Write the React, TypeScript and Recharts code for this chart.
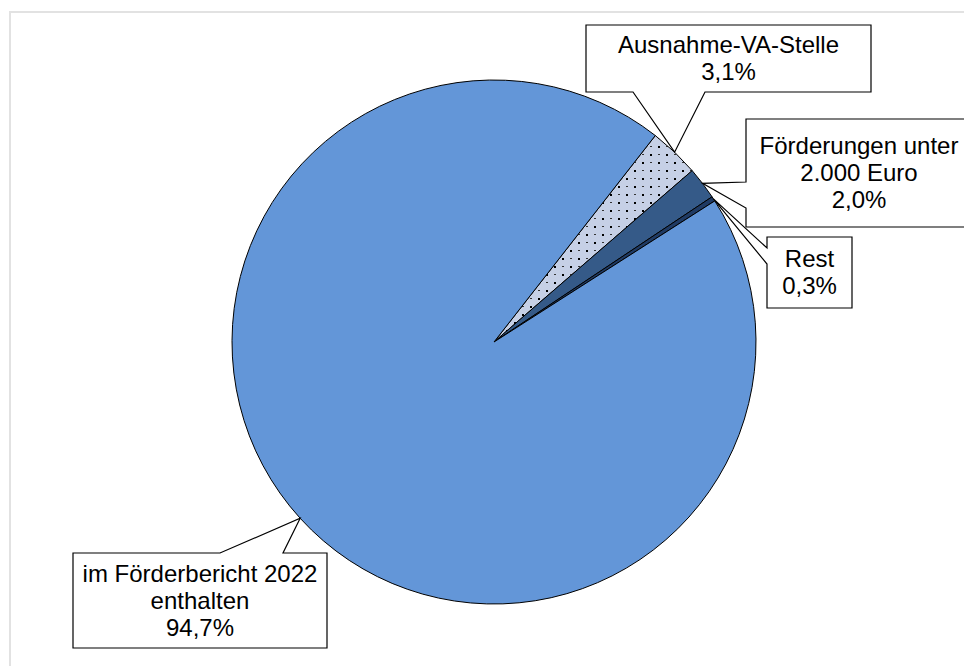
import React from "react";
import { Cell, Pie, PieChart } from "recharts";

const categories = [
  "Ausnahme-VA-Stelle",
  "Förderungen unter 2.000 Euro",
  "Rest",
  "im Förderbericht 2022 enthalten",
];
const shares = [3.1, 2.0, 0.3, 94.7];
const labelLines = [
  ["Ausnahme-VA-Stelle"],
  ["Förderungen unter", "2.000 Euro"],
  ["Rest"],
  ["im Förderbericht 2022", "enthalten"],
];
const fills = ["url(#dots)", "#355a88", "#1f3a63", "#6396d8"];

// callout boxes: rect + where the pointer leaves the box
const callouts = [
  { x: 586, y: 25, w: 285, h: 67, side: "bottom", a: 633, b: 705 },
  { x: 746, y: 119, w: 226, h: 108, side: "left", a: 182, b: 208 },
  { x: 767, y: 237, w: 85, h: 71, side: "left", a: 248, b: 264 },
  { x: 73, y: 553, w: 254, h: 95, side: "top", a: 220, b: 283 },
];

const data = categories.map((name, i) => ({ name, value: shares[i] }));

const RAD = Math.PI / 180;
const FONT = "'Liberation Sans', Arial, sans-serif";
const LH = 27;

function calloutPath(c: (typeof callouts)[number], tx: number, ty: number) {
  const { x, y, w, h, side, a, b } = c;
  const pts: [number, number][] = [[x, y]];
  if (side === "top") pts.push([a, y], [tx, ty], [b, y]);
  pts.push([x + w, y], [x + w, y + h]);
  if (side === "bottom") pts.push([b, y + h], [tx, ty], [a, y + h]);
  pts.push([x, y + h]);
  if (side === "left") pts.push([x, b], [tx, ty], [x, a]);
  return "M" + pts.map((p) => p.join(",")).join("L") + "Z";
}

// eslint-disable-next-line @typescript-eslint/no-explicit-any
function renderCallout(props: any) {
  const { cx, cy, midAngle, outerRadius, index } = props;
  const c = callouts[index];
  const tx = cx + outerRadius * Math.cos(-midAngle * RAD);
  const ty = cy + outerRadius * Math.sin(-midAngle * RAD);
  const lines = [...labelLines[index], shares[index].toFixed(1).replace(".", ",") + "%"];
  const midX = c.x + c.w / 2;
  const firstBase = c.y + c.h / 2 - ((lines.length - 1) * LH) / 2 + 8;
  return (
    <g key={`co-${index}`}>
      <path d={calloutPath(c, tx, ty)} fill="#fff" stroke="#000" strokeWidth={1.2} />
      <text
        x={midX}
        y={firstBase}
        textAnchor="middle"
        fontFamily={FONT}
        fontSize={24}
        fill="#000"
      >
        {lines.map((l, i) => (
          <tspan key={i} x={midX} dy={i === 0 ? 0 : LH}>
            {l}
          </tspan>
        ))}
      </text>
    </g>
  );
}

export default function App() {
  return (
    <div style={{ position: "absolute", left: 0, top: 0, width: 964, height: 666, background: "#fff", overflow: "hidden" }}>
      <svg width={0} height={0} style={{ position: "absolute" }}>
        <defs>
          <pattern id="dots" width={16} height={16} patternUnits="userSpaceOnUse">
            <rect width={16} height={16} fill="#c6d0e6" />
            <rect x={2} y={2} width={2} height={2} fill="#000" />
            <rect x={10} y={10} width={2} height={2} fill="#000" />
            <rect x={10} y={2} width={2} height={1} fill="#333" />
            <rect x={2} y={10} width={2} height={1} fill="#333" />
          </pattern>
        </defs>
      </svg>
      <div
        style={{
          position: "absolute",
          left: 9,
          top: 11,
          width: 1000,
          height: 700,
          border: "2px solid #e2e2e2",
        }}
      />
      <div style={{ position: "absolute", left: 0, top: 0 }}>
        <PieChart width={964} height={666} margin={{ top: 0, right: 0, bottom: 0, left: 0 }}>
          <Pie
            data={data}
            dataKey="value"
            nameKey="name"
            cx={494}
            cy={342}
            outerRadius={262}
            startAngle={52}
            endAngle={-308}
            stroke="#000"
            strokeWidth={1}
            label={renderCallout}
            labelLine={false}
            isAnimationActive={false}
          >
            {data.map((d, i) => (
              <Cell key={d.name} fill={fills[i]} stroke="#000" strokeWidth={1} />
            ))}
          </Pie>
        </PieChart>
      </div>
    </div>
  );
}
